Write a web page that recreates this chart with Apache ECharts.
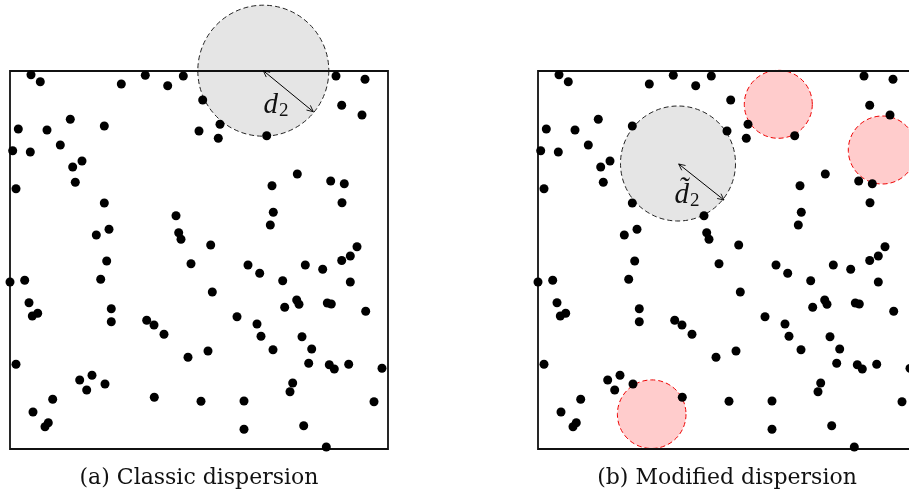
<!DOCTYPE html>
<html>
<head>
<meta charset="utf-8">
<script src="https://cdn.jsdelivr.net/npm/echarts@6/dist/echarts.min.js"></script>
<style>html,body{margin:0;padding:0;background:#fff;}#c{width:909px;height:500px;}</style>
</head>
<body>
<div id="c"></div>
<script>
// Point positions in box units (box = 0..378 on both axes, y measured downward)
const points = [
[21,3.7],[30.3,10.7],[111.3,13],[135.3,4.3],[157.7,14.7],[173.3,5],[8.3,58],[37,59],[60.3,48.3],[94.3,55],[189,60],[2.7,79.7],[20.3,81],[50.3,74],[72,90],[62.7,96],[65.3,111.3],[6,117.7],[94.3,132],[166,144.7],[86.3,164],[99,158.3],[168.7,161.7],[171,168.3],
[326,5],[355,8.3],[192.7,29],[331.7,34.3],[352,44],[210,53.3],[208.3,67.3],[256.7,64.7],[287.3,103],[262,114.7],[320.7,110],[334.3,112.7],[332,131.7],[263.3,141.3],[260.3,154],[200.7,174],[347,175.7],[340.3,185],[331.7,189.5],
[96.7,190],[181,192.7],[0,211],[14.7,209.3],[90.7,208.3],[19,231.7],[22.3,245],[27.7,242.3],[101.3,237.7],[101.3,250.7],[136.7,249.3],[144,254],[154,263.3],[178,286.3],[6,293.3],[69.7,309],[82,304.3],[76.7,319],[95,313],[144.3,326.3],[191,330.3],[42.7,328.3],[23,341],[38.3,351.7],[35,355.7],
[238,194],[249.7,202.3],[295.3,194],[312.7,198.3],[272.7,209.7],[340.3,211],[202.3,221],[286.7,229],[289,233.3],[274.7,236.3],[317.3,232],[321.3,233],[355.7,240.3],[227,245.7],[247,253],[251,265.3],[292,265.7],[301.7,278],[263,278.7],[198,280],[298.7,292.3],[319.3,293.7],[324.3,298],[338.7,293.3],[372,297.3],[282.7,312],[280,320.7],[234,330],[364,330.7],[234,358.3],[293.7,354.7],[316.3,376]
];
// circles: [cx, cy, r]
const classicGrey = [[253.3, -0.3, 65.5]];
const modifiedGrey = [[140, 92.5, 57.5]];
const modifiedRed = [[240.3, 33.3, 34], [344.3, 79, 34], [113.7, 343.2, 34.3]];
// arrows: [x1, y1, x2, y2]
const classicArrow = [[253.3, -0.3, 303.3, 40.7]];
const modifiedArrow = [[140.7, 93, 186, 129]];
// radius labels: [x, y]
const classicLabelPos = [[266, 34]];
const modifiedLabelPos = [[149, 124]];
const captions = ['(a) Classic dispersion', '(b) Modified dispersion'];
const boxMin = 0, boxMax = 378;

const chart = echarts.init(document.getElementById('c'), null, {renderer: 'canvas'});

function circleSeries(data, idx, fill, stroke) {
  return {
    type: 'custom', xAxisIndex: idx, yAxisIndex: idx, z: 1, clip: false, silent: true,
    data: data,
    renderItem: function (params, api) {
      const c = api.coord([api.value(0), api.value(1)]);
      const r = api.size([api.value(2), 0])[0];
      return {type: 'circle', shape: {cx: c[0], cy: c[1], r: r},
        style: {fill: fill, stroke: stroke, lineWidth: 1, lineDash: [5, 3]}};
    }
  };
}
function head(px, py, ux, uy) {
  const L = 7, a = 0.45;
  const ca = Math.cos(a), sa = Math.sin(a);
  const b1 = [-(ux * ca - uy * sa), -(ux * sa + uy * ca)];
  const b2 = [-(ux * ca + uy * sa), -(-ux * sa + uy * ca)];
  return {type: 'polyline', shape: {points: [[px + L * b1[0], py + L * b1[1]], [px, py], [px + L * b2[0], py + L * b2[1]]]},
    style: {stroke: '#000', lineWidth: 0.9, fill: null}};
}
function arrowSeries(data, idx) {
  return {
    type: 'custom', xAxisIndex: idx, yAxisIndex: idx, z: 4, clip: false, silent: true,
    data: data,
    renderItem: function (params, api) {
      const p1 = api.coord([api.value(0), api.value(1)]);
      const p2 = api.coord([api.value(2), api.value(3)]);
      const dx = p2[0] - p1[0], dy = p2[1] - p1[1];
      const len = Math.sqrt(dx * dx + dy * dy);
      const ux = dx / len, uy = dy / len;
      return {type: 'group', children: [
        {type: 'line', shape: {x1: p1[0], y1: p1[1], x2: p2[0], y2: p2[1]}, style: {stroke: '#000', lineWidth: 1}},
        head(p2[0], p2[1], ux, uy),
        head(p1[0], p1[1], -ux, -uy)
      ]};
    }
  };
}
function labelSeries(data, idx, main) {
  return {
    type: 'custom', xAxisIndex: idx, yAxisIndex: idx, z: 5, clip: false, silent: true,
    data: data,
    renderItem: function (params, api) {
      const p = api.coord([api.value(0), api.value(1)]);
      return {type: 'text', x: p[0], y: p[1], style: {
        text: '{d|' + main + '}{s|2}', align: 'center', verticalAlign: 'middle',
        rich: {
          d: {fontFamily: 'Liberation Serif', fontStyle: 'italic', fontSize: 29, fill: '#111'},
          s: {fontFamily: 'Liberation Serif', fontSize: 19, fill: '#111', padding: [12, 0, 0, 1]}
        }
      }};
    }
  };
}
function scatterSeries(idx) {
  return {type: 'scatter', xAxisIndex: idx, yAxisIndex: idx, z: 3, clip: false, silent: true,
    symbol: 'circle', symbolSize: 9, itemStyle: {color: '#000', opacity: 1}, data: points};
}

const gridBase = {top: 71, width: 378, height: 378, show: true, borderColor: '#111', borderWidth: 1.8, z: 2,
  backgroundColor: 'transparent', containLabel: false, outerBoundsMode: 'none'};
const option = {
  animation: false,
  backgroundColor: '#fff',
  grid: [Object.assign({left: 10}, gridBase), Object.assign({left: 538}, gridBase)],
  xAxis: [0, 1].map(i => ({type: 'value', gridIndex: i, min: boxMin, max: boxMax, show: false})),
  yAxis: [0, 1].map(i => ({type: 'value', gridIndex: i, min: boxMin, max: boxMax, inverse: true, show: false})),
  graphic: [
    {type: 'text', x: 199, y: 478, z: 10, style: {text: captions[0], align: 'center', verticalAlign: 'middle', fontFamily: 'DejaVu Serif', fontSize: 22, fill: '#111'}},
    {type: 'text', x: 727, y: 478, z: 10, style: {text: captions[1], align: 'center', verticalAlign: 'middle', fontFamily: 'DejaVu Serif', fontSize: 22, fill: '#111'}}
  ],
  series: [
    circleSeries(classicGrey, 0, '#e5e5e5', '#222'),
    circleSeries(modifiedGrey, 1, '#e5e5e5', '#222'),
    circleSeries(modifiedRed, 1, '#ffcccc', '#ee0000'),
    scatterSeries(0),
    scatterSeries(1),
    arrowSeries(classicArrow, 0),
    arrowSeries(modifiedArrow, 1),
    labelSeries(classicLabelPos, 0, 'd'),
    labelSeries(modifiedLabelPos, 1, 'd\u0303')
  ]
};
chart.setOption(option);
</script>
</body>
</html>
